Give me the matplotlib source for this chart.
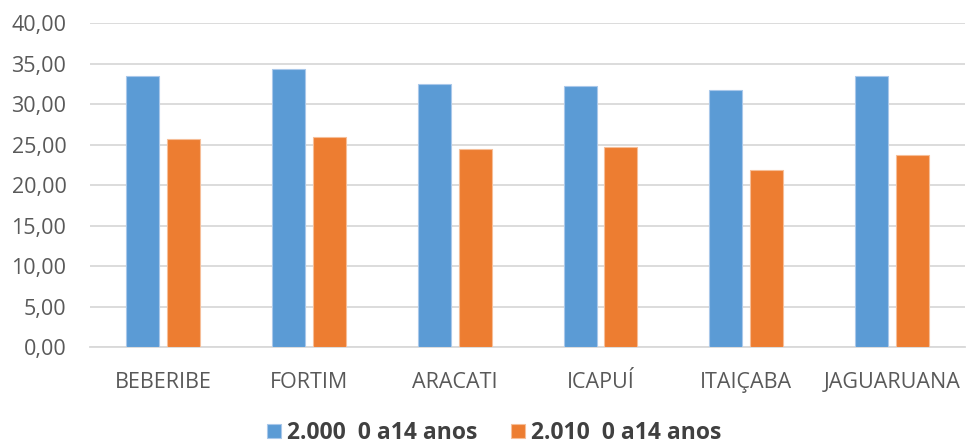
import matplotlib.pyplot as plt
import numpy as np

cidades = ['BEBERIBE', 'FORTIM', 'ARACATI', 'ICAPUÍ', 'ITAIÇABA', 'JAGUARUANA']
v2000 = [33.5, 34.3, 32.5, 32.3, 31.7, 33.5]
v2010 = [25.7, 25.9, 24.5, 24.7, 21.9, 23.7]
series_nomes = ['2.000  0 a14 anos', '2.010  0 a14 anos']

plt.rcParams['font.family'] = ['Open Sans', 'DejaVu Sans']

fig = plt.figure(figsize=(9.68, 4.45), dpi=100)
ax = fig.add_axes([0.093, 0.22, 0.904, 0.728])

x = np.arange(len(cidades))
w = 0.226
ax.bar(x - 0.14, v2000, w, color='#5B9BD5', edgecolor='#A9C8EA', linewidth=0.8,
       label=series_nomes[0], zorder=3)
ax.bar(x + 0.14, v2010, w, color='#ED7D31', edgecolor='#F6BE98', linewidth=0.8,
       label=series_nomes[1], zorder=3)

ax.set_ylim(0, 40)
ax.set_xlim(-0.5, len(cidades) - 0.5)
ax.set_yticks(np.arange(0, 41, 5))
ax.set_yticklabels(['%d,00' % t for t in np.arange(0, 41, 5)])
ax.set_xticks(x)
ax.set_xticklabels(cidades)
ax.yaxis.grid(True, color='#D9D9D9', linewidth=1.3, zorder=0)
for s in ['top', 'right', 'left']:
    ax.spines[s].set_visible(False)
ax.spines['bottom'].set_color('#D9D9D9')
ax.spines['bottom'].set_linewidth(1.3)
ax.tick_params(axis='both', length=0, labelsize=15.5, colors='#595959')
ax.tick_params(axis='x', pad=18)
ax.tick_params(axis='y', pad=17)

leg = ax.legend(loc='center', bbox_to_anchor=(0.462, -0.265), ncol=2, frameon=False,
                handlelength=0.6, handleheight=0.6, handletextpad=0.25,
                columnspacing=1.5, prop={'size': 16.5, 'weight': 'bold'})
for t in leg.get_texts():
    t.set_color('#404040')

fig.savefig('out.png', dpi=100)
